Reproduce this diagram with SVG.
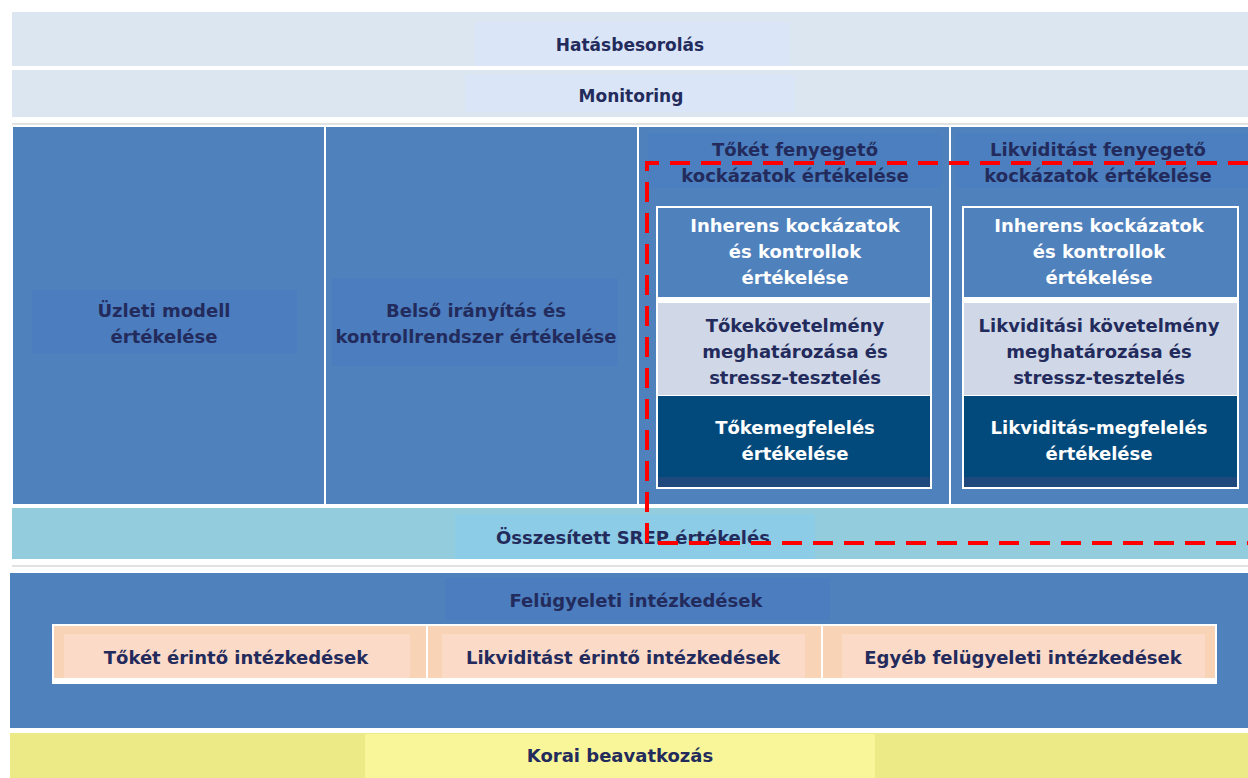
<svg xmlns="http://www.w3.org/2000/svg" width="1248" height="778" viewBox="0 0 1248 778">
<style>
text{font-family:"DejaVu Sans","Liberation Sans",sans-serif;font-weight:bold;font-size:18px;text-anchor:middle;fill:#232b5c}
.s{font-size:17px}
.w{fill:#ffffff}
.blue{fill:#4f81bd}
.hdr{fill:#4b7fbf}
.lt{fill:#dce6f1}
.lti{fill:#dae5f7}
.grey{fill:#d0d8e8}
.navy{fill:#02497c}
.strip{fill:#1f497d}
.peach{fill:#f8d3b6}
.peachi{fill:#fcdac8}
.dash{fill:none;stroke:#ff0000;stroke-width:4;stroke-dasharray:20 11}
</style>
<rect width="1248" height="778" fill="#ffffff"/>
<g id="hatasbesorolas">
<rect x="12" y="12" width="1236" height="54" class="lt"/>
<rect x="475" y="22" width="315" height="44" class="lti"/>
<text x="630" y="51" class="s">Hatásbesorolás</text>
</g>
<g id="monitoring">
<rect x="12" y="70" width="1236" height="47" class="lt"/>
<rect x="465" y="75" width="330" height="37" class="lti"/>
<text x="631" y="102" class="s">Monitoring</text>
</g>
<rect x="12" y="123" width="1236" height="2" fill="#e2e2e2"/>
<g id="uzleti">
<rect x="13" y="127" width="311" height="377" class="blue"/>
<rect x="32" y="290" width="265" height="64" fill="#4b7dbf"/>
<text x="164" y="317">Üzleti modell</text>
<text x="164" y="343">értékelése</text>
</g>
<g id="belso">
<rect x="326" y="127" width="311" height="377" class="blue"/>
<rect x="332" y="278" width="286" height="88" fill="#4b7dbf"/>
<text x="476" y="317">Belső irányítás és</text>
<text x="476" y="343">kontrollrendszer értékelése</text>
</g>
<g id="toke">
<rect x="639" y="127" width="310" height="377" class="blue"/>
<rect x="648" y="133" width="294" height="55" class="hdr"/>
<text x="795" y="156">Tőkét fenyegető</text>
<text x="795" y="182">kockázatok értékelése</text>
<rect x="656" y="206" width="276" height="283" class="w"/>
<rect x="658" y="208" width="272" height="89" class="blue"/>
<text x="795" y="232" class="w">Inherens kockázatok</text>
<text x="795" y="258" class="w">és kontrollok</text>
<text x="795" y="284" class="w">értékelése</text>
<rect x="658" y="303" width="272" height="92" class="grey"/>
<text x="795" y="332">Tőkekövetelmény</text>
<text x="795" y="358">meghatározása és</text>
<text x="795" y="384">stressz-tesztelés</text>
<rect x="658" y="396" width="272" height="91" class="strip"/>
<rect x="658" y="396" width="272" height="81" class="navy"/>
<text x="795" y="434" class="w">Tőkemegfelelés</text>
<text x="795" y="460" class="w">értékelése</text>
</g>
<g id="likviditas">
<rect x="951" y="127" width="297" height="377" class="blue"/>
<rect x="955" y="133" width="293" height="55" class="hdr"/>
<text x="1098" y="156">Likviditást fenyegető</text>
<text x="1098" y="182">kockázatok értékelése</text>
<rect x="962" y="206" width="277" height="283" class="w"/>
<rect x="964" y="208" width="273" height="89" class="blue"/>
<text x="1099" y="232" class="w">Inherens kockázatok</text>
<text x="1099" y="258" class="w">és kontrollok</text>
<text x="1099" y="284" class="w">értékelése</text>
<rect x="964" y="303" width="273" height="92" class="grey"/>
<text x="1099" y="332">Likviditási követelmény</text>
<text x="1099" y="358">meghatározása és</text>
<text x="1099" y="384">stressz-tesztelés</text>
<rect x="964" y="396" width="273" height="91" class="strip"/>
<rect x="964" y="396" width="273" height="81" class="navy"/>
<text x="1099" y="434" class="w">Likviditás-megfelelés</text>
<text x="1099" y="460" class="w">értékelése</text>
</g>
<g id="srep">
<rect x="12" y="508" width="1236" height="51" fill="#93cddd"/>
<rect x="455" y="514" width="360" height="45" fill="#8ccce6"/>
<text x="633" y="544">Összesített SREP értékelés</text>
</g>
<rect x="12" y="565" width="1236" height="2" fill="#e2e2e2"/>
<g id="felugyeleti">
<rect x="10" y="573" width="1238" height="155" class="blue"/>
<rect x="445" y="578" width="385" height="42" fill="#4b7dbf"/>
<text x="636" y="607">Felügyeleti intézkedések</text>
<rect x="52" y="624" width="1165" height="60" class="w"/>
</g>
<g id="toket-erinto">
<rect x="54" y="626" width="372" height="52" class="peach"/>
<rect x="64" y="634" width="346" height="44" class="peachi"/>
<text x="236" y="664">Tőkét érintő intézkedések</text>
</g>
<g id="likviditast-erinto">
<rect x="428" y="626" width="393" height="52" class="peach"/>
<rect x="442" y="634" width="363" height="44" class="peachi"/>
<text x="623" y="664">Likviditást érintő intézkedések</text>
</g>
<g id="egyeb">
<rect x="823" y="626" width="392" height="52" class="peach"/>
<rect x="842" y="634" width="363" height="44" class="peachi"/>
<text x="1023" y="664">Egyéb felügyeleti intézkedések</text>
</g>
<g id="korai">
<rect x="10" y="733" width="1238" height="45" fill="#ece987"/>
<rect x="365" y="734" width="510" height="44" fill="#f9f699"/>
<text x="620" y="762">Korai beavatkozás</text>
</g>
<g id="connectors">
<path class="dash" d="M1248 163 H647 V543 H1248"/>
</g>
</svg>
